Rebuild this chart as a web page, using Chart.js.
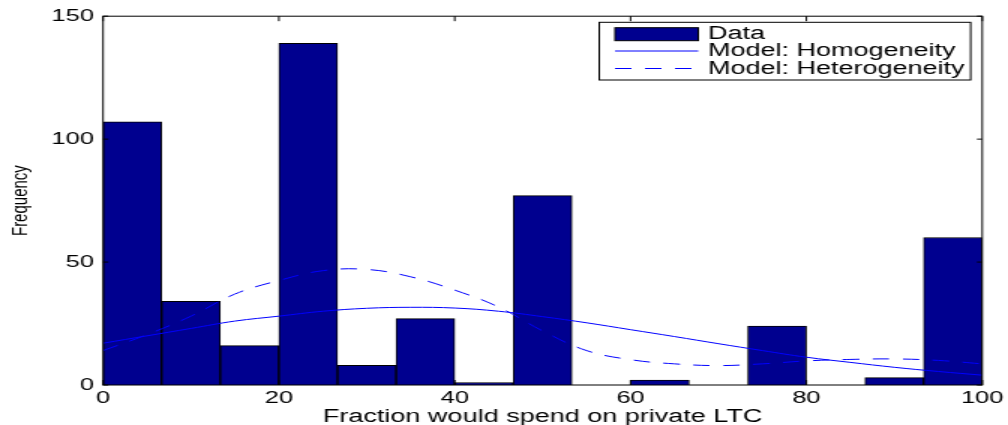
<!DOCTYPE html>
<html>
<head>
<meta charset="utf-8">
<script src="https://cdn.jsdelivr.net/npm/chart.js@4"></script>
<style>
  html, body { margin: 0; padding: 0; background: #fff; overflow: hidden; }
  /* the original figure is stretched sideways, so draw narrow and stretch */
  #wrap { width: 672px; height: 425px; transform: scaleX(1.5); transform-origin: 0 0; }
</style>
</head>
<body>
<div id="wrap"><canvas id="chart_c" width="672" height="425"></canvas></div>
<script>
const binWidth = 100 / 15
const binCounts = [107, 34, 16, 139, 8, 27, 1, 77, 0, 2, 0, 24, 0, 3, 60]
const curveX = [0, 5, 10, 15, 20, 25, 30, 35, 40, 45, 50, 55, 60, 65, 70, 75, 80, 85, 90, 95, 100]
const homogeneity = [17, 20, 23, 26, 28, 30, 31.2, 31.6, 31.3, 30, 27.8, 25.3, 22.5, 19.7, 16.8, 14, 11.3, 9.2, 7.2, 5.5, 4]
const heterogeneity = [14, 20.5, 28, 37, 42.5, 46.5, 47, 44, 38.6, 31.7, 22, 14, 10.3, 8.6, 7.9, 8.6, 9.8, 10.4, 10.6, 10, 8.6]
const xTicks = [0, 20, 40, 60, 80, 100]
const yTicks = [0, 50, 100, 150]
const labels = ['Data', 'Model: Homogeneity', 'Model: Heterogeneity']

const navy = '#00008f'
const blue = '#0000ff'
const fam = '"Liberation Sans", Arial, sans-serif'

// box round the axes, inward ticks and the legend
const frame = {
  id: 'frame',
  afterDraw(chart) {
    const { ctx, chartArea: a, scales: { x, y } } = chart
    ctx.save()
    ctx.strokeStyle = '#000'
    ctx.lineWidth = 1
    ctx.strokeRect(a.left, a.top, a.width, a.height)
    ctx.beginPath()
    xTicks.forEach(v => {
      const px = x.getPixelForValue(v)
      ctx.moveTo(px, a.bottom); ctx.lineTo(px, a.bottom - 5)
      ctx.moveTo(px, a.top); ctx.lineTo(px, a.top + 5)
    })
    yTicks.forEach(v => {
      const py = y.getPixelForValue(v)
      ctx.moveTo(a.left, py); ctx.lineTo(a.left + 3.5, py)
      ctx.moveTo(a.right, py); ctx.lineTo(a.right - 3.5, py)
    })
    ctx.stroke()

    // legend
    const lx = 399.5, ly = 22.3, lw = 247.6, lh = 57.7
    ctx.fillStyle = '#fff'
    ctx.fillRect(lx, ly, lw, lh)
    ctx.strokeRect(lx, ly, lw, lh)
    const rows = [33.5, 51, 68.5]
    ctx.fillStyle = navy
    ctx.fillRect(410, 27.7, 55.5, 13)
    ctx.strokeRect(410, 27.7, 55.5, 13)
    ctx.strokeStyle = blue
    ctx.beginPath(); ctx.moveTo(410, rows[1]); ctx.lineTo(465.5, rows[1]); ctx.stroke()
    ctx.setLineDash([11, 9])
    ctx.beginPath(); ctx.moveTo(410, rows[2]); ctx.lineTo(465.5, rows[2]); ctx.stroke()
    ctx.setLineDash([])
    ctx.fillStyle = '#000'
    ctx.font = '18px ' + fam
    ctx.textBaseline = 'middle'
    ctx.textAlign = 'left'
    labels.forEach((t, i) => ctx.fillText(t, 472, rows[i] + 0.5))
    ctx.restore()
  }
}

const tickFont = { family: fam, size: 17 }

new Chart(document.getElementById('chart_c'), {
  type: 'bar',
  data: {
    datasets: [
      {
        type: 'line',
        label: labels[1],
        data: curveX.map((v, i) => ({ x: v, y: homogeneity[i] })),
        borderColor: blue,
        borderWidth: 1,
        pointRadius: 0,
        tension: 0.4,
        fill: false,
        order: 1
      },
      {
        type: 'line',
        label: labels[2],
        data: curveX.map((v, i) => ({ x: v, y: heterogeneity[i] })),
        borderColor: blue,
        borderWidth: 1,
        borderDash: [11, 9],
        pointRadius: 0,
        tension: 0.4,
        fill: false,
        order: 1
      },
      {
        type: 'bar',
        label: labels[0],
        data: binCounts.map((c, i) => ({ x: (i + 0.5) * binWidth, y: c })),
        backgroundColor: navy,
        borderColor: '#000',
        borderWidth: 1,
        barPercentage: 1,
        categoryPercentage: 1,
        order: 2
      }
    ]
  },
  options: {
    responsive: false,
    animation: false,
    devicePixelRatio: 1,
    layout: { padding: { top: 16, right: 16.7, left: 0, bottom: 0 } },
    plugins: { legend: { display: false }, tooltip: { enabled: false } },
    scales: {
      x: {
        type: 'linear',
        min: 0,
        max: 100,
        offset: false,
        grid: { display: false, drawTicks: false, offset: false },
        border: { display: false },
        ticks: { stepSize: 20, font: tickFont, color: '#000', padding: 3, maxRotation: 0 },
        title: {
          display: true,
          text: 'Fraction would spend on private LTC',
          font: { family: fam, size: 18 },
          color: '#000',
          padding: { top: 0, bottom: -3 }
        },
        afterFit: s => { s.height = 40 }
      },
      y: {
        min: 0,
        max: 150,
        grid: { display: false, drawTicks: false },
        border: { display: false },
        ticks: { stepSize: 50, font: tickFont, color: '#000', padding: 6 },
        title: {
          display: true,
          text: 'Frequency',
          font: { family: fam, size: 15 },
          color: '#000',
          padding: { top: 5, bottom: 0 }
        },
        afterFit: s => { s.width = 68.7 }
      }
    }
  },
  plugins: [frame]
})
</script>
</body>
</html>
